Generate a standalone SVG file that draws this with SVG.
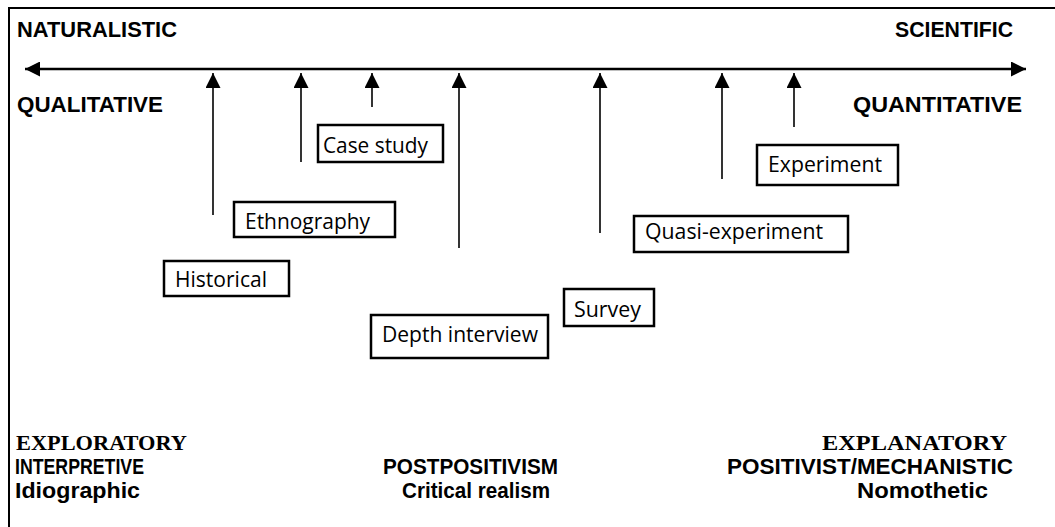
<svg xmlns="http://www.w3.org/2000/svg" width="1055" height="527" viewBox="0 0 1055 527">
  <defs>
    <marker id="head" viewBox="0 0 15 15" refX="15" refY="7.5" markerWidth="15" markerHeight="15" markerUnits="userSpaceOnUse" orient="auto-start-reverse">
      <path d="M0,0 L15,7.5 L0,15 z" fill="#000"/>
    </marker>
  </defs>
  <style>
    .frame { stroke: #000; stroke-width: 2; fill: none; }
    .axis { stroke: #000; stroke-width: 2.5; fill: none; }
    .link { stroke: #000; stroke-width: 1.6; fill: none; }
    .box rect { fill: #fff; stroke: #000; stroke-width: 2.5; }
    .box text { font-family: "Open Sans", "Liberation Sans", sans-serif; font-size: 22px; fill: #000; }
    .head { font-family: "Liberation Sans", Arial, sans-serif; font-weight: bold; font-size: 21.5px; fill: #000; }
    .tall { font-family: "Liberation Sans", Arial, sans-serif; font-weight: bold; font-size: 22.5px; fill: #000; }
    .serif { font-family: "Liberation Serif", "Times New Roman", serif; font-weight: bold; font-size: 21px; fill: #000; }
  </style>
  <rect width="1055" height="527" fill="#fff"/>

  <!-- outer frame (top and left edges) -->
  <path class="frame" d="M9,527 V8 H1055"/>

  <!-- axis end labels -->
  <g id="labels-top">
    <text class="head" x="17" y="37" textLength="160" lengthAdjust="spacingAndGlyphs">NATURALISTIC</text>
    <text class="head" x="895" y="37" textLength="118" lengthAdjust="spacingAndGlyphs">SCIENTIFIC</text>
    <text class="head" x="17" y="112" textLength="146" lengthAdjust="spacingAndGlyphs">QUALITATIVE</text>
    <text class="head" x="853" y="112" textLength="169" lengthAdjust="spacingAndGlyphs">QUANTITATIVE</text>
  </g>

  <!-- connectors: main axis and method pointers -->
  <g id="connectors">
    <line class="axis" x1="25" y1="69" x2="1026" y2="69" marker-start="url(#head)" marker-end="url(#head)"/>
    <line class="link" x1="213" y1="215" x2="213" y2="73" marker-end="url(#head)"/>
    <line class="link" x1="301" y1="162" x2="301" y2="73" marker-end="url(#head)"/>
    <line class="link" x1="372" y1="107" x2="372" y2="73" marker-end="url(#head)"/>
    <line class="link" x1="459" y1="248" x2="459" y2="73" marker-end="url(#head)"/>
    <line class="link" x1="600" y1="233" x2="600" y2="73" marker-end="url(#head)"/>
    <line class="link" x1="722" y1="179" x2="722" y2="73" marker-end="url(#head)"/>
    <line class="link" x1="794" y1="127" x2="794" y2="73" marker-end="url(#head)"/>
  </g>

  <!-- method boxes -->
  <g id="case-study" class="box">
    <rect x="318" y="125" width="125" height="37"/>
    <text x="323" y="153" textLength="105" lengthAdjust="spacingAndGlyphs">Case study</text>
  </g>
  <g id="ethnography" class="box">
    <rect x="234" y="202" width="161" height="35"/>
    <text x="245" y="229" textLength="125" lengthAdjust="spacingAndGlyphs">Ethnography</text>
  </g>
  <g id="historical" class="box">
    <rect x="164" y="261" width="125" height="35"/>
    <text x="175" y="287" textLength="92" lengthAdjust="spacingAndGlyphs">Historical</text>
  </g>
  <g id="depth-interview" class="box">
    <rect x="371" y="315" width="177" height="43"/>
    <text x="382" y="342" textLength="156" lengthAdjust="spacingAndGlyphs">Depth interview</text>
  </g>
  <g id="survey" class="box">
    <rect x="564" y="289" width="90" height="37"/>
    <text x="574" y="317" textLength="67" lengthAdjust="spacingAndGlyphs">Survey</text>
  </g>
  <g id="quasi-experiment" class="box">
    <rect x="634" y="216" width="214" height="36"/>
    <text x="645" y="239" textLength="178" lengthAdjust="spacingAndGlyphs">Quasi-experiment</text>
  </g>
  <g id="experiment" class="box">
    <rect x="757" y="145" width="141" height="40"/>
    <text x="768" y="172" textLength="114" lengthAdjust="spacingAndGlyphs">Experiment</text>
  </g>

  <!-- paradigm labels along the bottom -->
  <g id="labels-bottom">
    <text class="serif" x="16" y="450" textLength="171" lengthAdjust="spacingAndGlyphs">EXPLORATORY</text>
    <text class="tall" x="15" y="474" textLength="129" lengthAdjust="spacingAndGlyphs">INTERPRETIVE</text>
    <text class="tall" x="15" y="498" textLength="125" lengthAdjust="spacingAndGlyphs">Idiographic</text>
    <text class="tall" x="383" y="474" textLength="175" lengthAdjust="spacingAndGlyphs">POSTPOSITIVISM</text>
    <text class="tall" x="402" y="498" textLength="148" lengthAdjust="spacingAndGlyphs">Critical realism</text>
    <text class="serif" x="822" y="450" textLength="185" lengthAdjust="spacingAndGlyphs">EXPLANATORY</text>
    <text class="tall" x="727" y="474" textLength="286" lengthAdjust="spacingAndGlyphs">POSITIVIST/MECHANISTIC</text>
    <text class="tall" x="857" y="498" textLength="131" lengthAdjust="spacingAndGlyphs">Nomothetic</text>
  </g>
</svg>
